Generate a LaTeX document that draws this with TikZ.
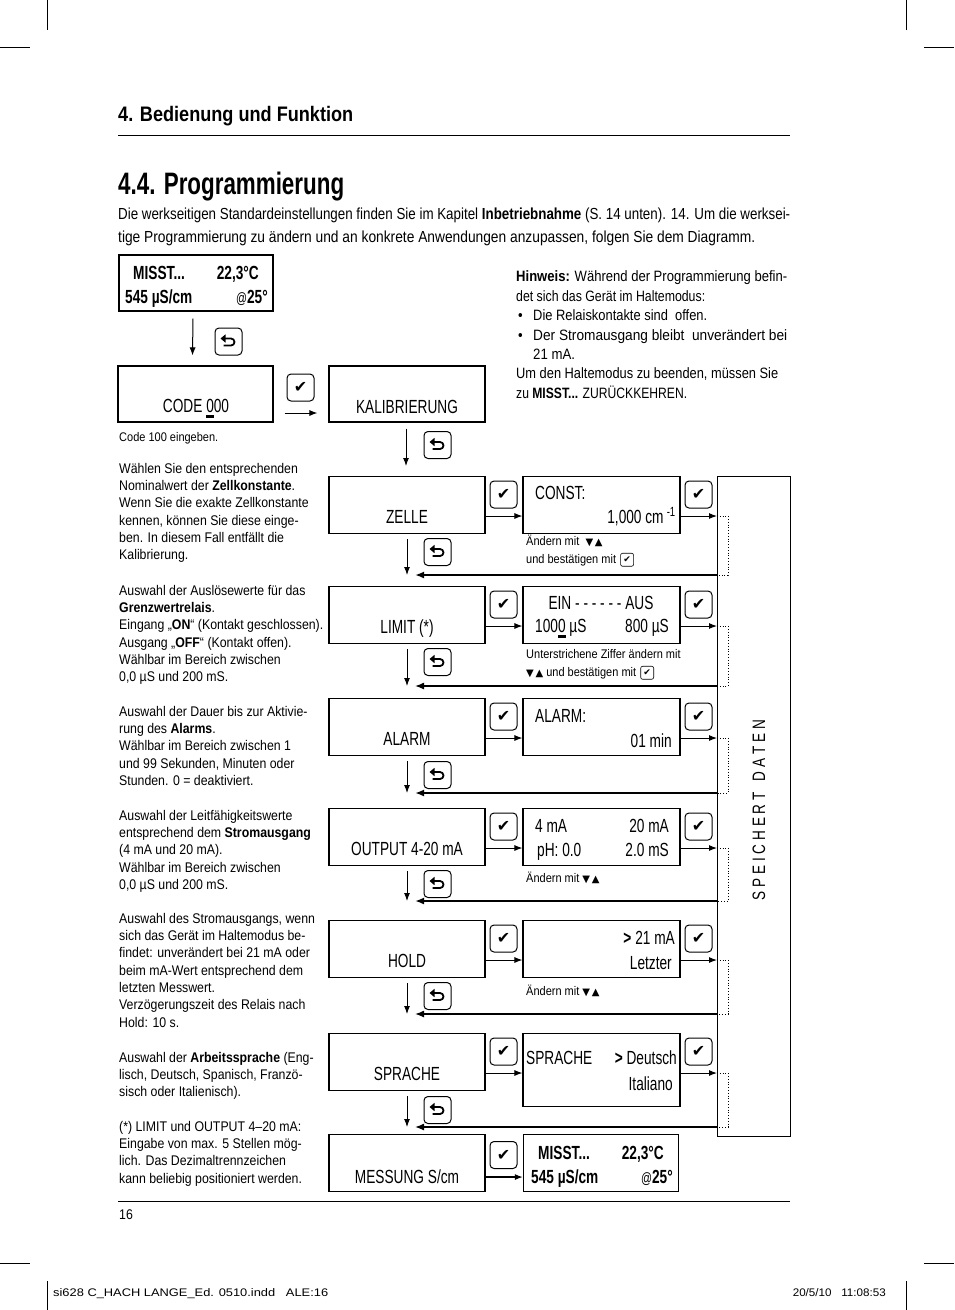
\documentclass[tikz,border=0pt]{standalone}
\usepackage{fontspec}
\usepackage{graphicx}
\setmainfont{Liberation Sans}[FakeStretch=0.88]
\newfontfamily\lcdfont{Liberation Sans}[FakeStretch=0.72]
\newfontfamily\symfont{DejaVu Sans}
\usetikzlibrary{arrows.meta,positioning}

% helpers
\newcommand{\fitw}[2]{\resizebox{#1}{\height}{#2}}
\newcommand{\chk}{{\symfont ✔}}
\newcommand{\updown}{{\symfont\fontsize{10}{10}\selectfont ▼\,▲}}
\newcommand{\cursor}[1]{\makebox[0pt][l]{\rule[-5.5pt]{7.6pt}{2.6pt}}#1}

\tikzset{
  lcd/.style={draw, line width=1.1pt, minimum width=156pt, minimum height=57pt, inner sep=0pt},
  lcdtxt/.style={inner sep=0pt, font=\lcdfont\fontsize{19}{22}\selectfont},
  btn/.style={draw, rounded corners=4pt, line width=1pt, minimum size=27pt, inner sep=0pt, font=\fontsize{16}{16}\selectfont},
  minibtn/.style={draw, rounded corners=2pt, line width=0.6pt, minimum size=13pt, inner sep=0pt, font=\fontsize{9}{9}\selectfont},
  note/.style={inner sep=0pt, align=left, anchor=north west, font=\fontsize{14}{17.3}\selectfont},
  hint/.style={inner sep=0pt, anchor=base west, font=\fontsize{15}{18}\selectfont},
  subtxt/.style={inner sep=0pt, anchor=base west, font=\fontsize{12.5}{15}\selectfont},
  flow/.style={-{Latex[length=8pt,width=6pt]}, line width=1pt},
  back/.style={-{Latex[length=9pt,width=7pt]}, shorten >=8pt},
  dots/.style={dotted, line width=0.8pt},
}

% return key with hooked arrow
\newcommand{\retkey}[2]{%
  \node[btn] (#1) at (#2) {};
  \begin{scope}[shift={(#1.center)}, x=1pt, y=1pt]
    \draw[line width=1.8pt, -{Triangle[length=5pt,width=8pt]}] (-5,-4) -- (2.5,-4) arc[start angle=-90, end angle=90, radius=3.5] -- (-8,3);
  \end{scope}}

\begin{document}
\begin{tikzpicture}[x=1pt, y=-1pt]

\fill[white] (0,0) rectangle (954,1310);
\useasboundingbox (0,0) rectangle (954,1310);

% Crop marks
\draw[line width=0.8pt] (47,0) -- (47,30);
\draw[line width=0.8pt] (906,0) -- (906,30);
\draw[line width=0.8pt] (0,47) -- (30,47);
\draw[line width=0.8pt] (924,47) -- (954,47);
\draw[line width=0.8pt] (0,1263) -- (30,1263);
\draw[line width=0.8pt] (924,1263) -- (954,1263);
\draw[line width=0.8pt] (47,1281) -- (47,1310);
\draw[line width=0.8pt] (906,1281) -- (906,1310);

% Headings
\node[inner sep=0pt, anchor=base west, font=\fontsize{21}{21}\selectfont\bfseries] (chap) at (118,121) {\fitw{235pt}{4. Bedienung und Funktion}};
\draw[line width=1pt] (118,135) -- (790,135);
\node[inner sep=0pt, anchor=base west, font=\fontsize{31}{31}\selectfont\bfseries] (sect) at (118,194) {\fitw{226pt}{4.4. Programmierung}};
\node[inner sep=0pt, anchor=base west, font=\fontsize{16}{19}\selectfont] (intro1) at (118,219.5) {\fitw{672pt}{Die werkseitigen Standardeinstellungen finden Sie im Kapitel \textbf{Inbetriebnahme} (S. 14 unten). 14. Um die werksei-}};
\node[inner sep=0pt, anchor=base west, font=\fontsize{16}{19}\selectfont] (intro2) at (118,242.5) {\fitw{637pt}{tige Programmierung zu ändern und an konkrete Anwendungen anzupassen, folgen Sie dem Diagramm.}};

% Hint
\node[hint] (h1) at (516,281) {\fitw{271pt}{\textbf{Hinweis:} Während der Programmierung befin-}};
\node[hint] (h2) at (516,301) {\fitw{189pt}{det sich das Gerät im Haltemodus:}};
\node[hint] (h3b) at (518,320) {\textbullet};
\node[hint] (h3) at (533,320) {\fitw{174pt}{Die Relaiskontakte sind\ \ offen.}};
\node[hint] (h4b) at (518,340) {\textbullet};
\node[hint] (h4) at (533,340) {\fitw{254pt}{Der Stromausgang bleibt\ \ unverändert bei}};
\node[hint] (h5) at (533,359) {21 mA.};
\node[hint] (h6) at (516,378) {\fitw{262pt}{Um den Haltemodus zu beenden, müssen Sie}};
\node[hint] (h7) at (516,398) {\fitw{171pt}{zu \textbf{MISST...} ZURÜCKKEHREN.}};

% Start: measuring display and code entry
\node[lcd, minimum width=154pt, minimum height=56pt] (misst) at (196,283) {};
\node[lcdtxt, anchor=base west, font=\lcdfont\fontsize{19}{22}\selectfont\bfseries] at (133,279) {MISST...};
\node[lcdtxt, anchor=base east, font=\lcdfont\fontsize{19}{22}\selectfont\bfseries] at (259,279) {22,3°C};
\node[lcdtxt, anchor=base west, font=\lcdfont\fontsize{19}{22}\selectfont\bfseries] at (125,303) {545 µS/cm};
\node[lcdtxt, anchor=base east, font=\lcdfont\fontsize{19}{22}\selectfont\bfseries] at (268,303) {{\mdseries\fontsize{15}{15}\selectfont @}25°};

\node[lcd, minimum width=155pt, minimum height=56pt] (code) at (195.5,394) {};
\node[lcdtxt, anchor=base] at (196,412) {CODE \cursor{0}00};
\node[subtxt] (codenote) at (119,441) {Code 100 eingeben.};

\node[lcd, minimum height=56pt] (kalib) at (407,394) {};
\node[lcdtxt, anchor=base] at (407,413) {KALIBRIERUNG};

\draw[flow] ([xshift=-3pt,yshift=-7pt]misst.south) -- ([xshift=-3pt,yshift=10pt]code.north);
\retkey{ret0}{228.5,341.5}
\node[btn] (ok0) at (300.5,387.5) {\chk};
\draw[flow] ([xshift=11pt,yshift=-19pt]code.east) -- ([xshift=-11pt,yshift=-19pt]kalib.west);
\draw[flow] ([xshift=-1pt,yshift=-6pt]kalib.south) -- ([xshift=-1pt,yshift=10pt]kalib.south |- 0,476);
\retkey{ret1}{437.5,445}

% Store column
\node[draw, line width=1.1pt, minimum width=73pt, minimum height=660pt, inner sep=0pt, anchor=north west] (store) at (717,476) {};
\node[lcdtxt, rotate=90] (storetxt) at (759,810) {\fitw{180pt}{\fontsize{18}{18}\selectfont S P E I C H E R T\ \ \ D A T E N}};

% Menu rows
\foreach \row/\ytop/\yfb/\yret/\hset/\wfb/\lbl in {
  zelle/476/575/552/57/2.2/ZELLE,
  limit/586/686/662/57/1.4/{LIMIT (*)},
  alarm/698/793/775/57/2.2/ALARM,
  output/808/901/884/57/2.2/{OUTPUT 4-20 mA},
  hold/920/1014/996/57/1.4/HOLD,
  sprache/1033/1127/1110/73/1.4/SPRACHE}{
  \node[lcd, anchor=north] (\row) at (407,\ytop) {};
  \node[lcd, anchor=north, minimum width=157pt, minimum height=\hset pt] (\row-set) at (601.5,\ytop) {};
  \node[lcdtxt, anchor=base] at (407,\ytop+47) {\lbl};
  \node[btn] (\row-ok) at (503.5,\ytop+18.5) {\chk};
  \node[btn] (\row-ok2) at (698.5,\ytop+18.5) {\chk};
  \coordinate (\row-in) at (0,\ytop+40);
  \coordinate (\row-fb) at (717,\yfb);
  \draw[flow] (\row.east |- \row-in) -- (\row-set.west |- \row-in);
  \draw[flow] (\row-set.east |- \row-in) -- (store.west |- \row-in);
  \draw[dots] (store.west |- \row-in) -- ++(11,0) |- (\row-fb);
  \draw[back, line width=\wfb pt] (\row-fb) -- (\row.south |- \row-fb);
  \draw[flow] ([yshift=-5pt]\row.south) -- (\row.south |- \row-fb);
  \retkey{\row-ret}{437.5,\yret}
}

% Settings texts
\node[lcdtxt, anchor=base west] at (535,499) {CONST:};
\node[lcdtxt, anchor=base east] at (676,523) {1,000 cm\,\textsuperscript{-1}};
\node[subtxt] (s1) at (526,545) {Ändern mit\ \ \updown};
\node[subtxt] (s2) at (526,563) {und bestätigen mit};
\node[minibtn, right=4pt of s2] (s2k) {\chk};

\node[lcdtxt, anchor=base] at (601,609) {EIN - - - - - - AUS};
\node[lcdtxt, anchor=base west] at (535,632) {100\cursor{0} µS};
\node[lcdtxt, anchor=base east] at (669,632) {800 µS};
\node[subtxt] (s3) at (526,658) {Unterstrichene Ziffer ändern mit};
\node[subtxt] (s4) at (526,676) {\updown\ und bestätigen mit};
\node[minibtn, right=4pt of s4] (s4k) {\chk};

\node[lcdtxt, anchor=base west] at (535,722) {ALARM:};
\node[lcdtxt, anchor=base east] at (672,747) {01 min};

\node[lcdtxt, anchor=base west] at (535,832) {4 mA};
\node[lcdtxt, anchor=base east] at (669,832) {20 mA};
\node[lcdtxt, anchor=base west] at (537,856) {pH: 0.0};
\node[lcdtxt, anchor=base east] at (669,856) {2.0 mS};
\node[subtxt] (s5) at (526,882) {Ändern mit \updown};

\node[lcdtxt, anchor=base east] at (675,944) {\textbf{>} 21 mA};
\node[lcdtxt, anchor=base east] at (672,969) {Letzter};
\node[subtxt] (s6) at (526,995) {Ändern mit \updown};

\node[lcdtxt, anchor=base west] at (526,1064) {SPRACHE};
\node[lcdtxt, anchor=base east] at (677,1064) {\textbf{>} Deutsch};
\node[lcdtxt, anchor=base east] at (673,1090) {Italiano};

% End: back to measuring
\node[lcd, anchor=north] (mess) at (407,1134) {};
\node[lcdtxt, anchor=base] at (407,1183) {MESSUNG S/cm};
\node[lcd, anchor=north, minimum width=155pt] (misst2) at (601,1134) {};
\node[lcdtxt, anchor=base west, font=\lcdfont\fontsize{19}{22}\selectfont\bfseries] at (538,1159) {MISST...};
\node[lcdtxt, anchor=base east, font=\lcdfont\fontsize{19}{22}\selectfont\bfseries] at (664,1159) {22,3°C};
\node[lcdtxt, anchor=base west, font=\lcdfont\fontsize{19}{22}\selectfont\bfseries] at (531,1183) {545 µS/cm};
\node[lcdtxt, anchor=base east, font=\lcdfont\fontsize{19}{22}\selectfont\bfseries] at (673,1183) {{\mdseries\fontsize{15}{15}\selectfont @}25°};
\node[btn] (ok9) at (503.5,1155) {\chk};
\draw[flow, line width=1.4pt] ([yshift=-14pt]mess.east) -- ([yshift=-14pt]misst2.west);

% Left column notes
\node[note] (n1) at (119,463) {Wählen Sie den entsprechenden\\Nominalwert der \textbf{Zellkonstante}.\\Wenn Sie die exakte Zellkonstante\\kennen, können Sie diese einge-\\ben. In diesem Fall entfällt die\\Kalibrierung.};
\node[note] (n2) at (119,585) {Auswahl der Auslösewerte für das\\\textbf{Grenzwertrelais}.\\Eingang „\textbf{ON}“ (Kontakt geschlossen).\\Ausgang „\textbf{OFF}“ (Kontakt offen).\\Wählbar im Bereich zwischen\\0,0 µS und 200 mS.};
\node[note] (n3) at (119,706) {Auswahl der Dauer bis zur Aktivie-\\rung des \textbf{Alarms}.\\Wählbar im Bereich zwischen 1\\und 99 Sekunden, Minuten oder\\Stunden. 0 = deaktiviert.};
\node[note] (n4) at (119,810) {Auswahl der Leitfähigkeitswerte\\entsprechend dem \textbf{Stromausgang}\\(4 mA und 20 mA).\\Wählbar im Bereich zwischen\\0,0 µS und 200 mS.};
\node[note] (n5) at (119,913) {Auswahl des Stromausgangs, wenn\\sich das Gerät im Haltemodus be-\\findet: unverändert bei 21 mA oder\\beim mA-Wert entsprechend dem\\letzten Messwert.\\Verzögerungszeit des Relais nach\\Hold: 10 s.};
\node[note] (n6) at (119,1052) {Auswahl der \textbf{Arbeitssprache} (Eng-\\lisch, Deutsch, Spanisch, Franzö-\\sisch oder Italienisch).};
\node[note] (n7) at (119,1121) {(*) LIMIT und OUTPUT 4–20 mA:\\Eingabe von max. 5 Stellen mög-\\lich. Das Dezimaltrennzeichen\\kann beliebig positioniert werden.};

% Footer
\draw[line width=1pt] (118,1201) -- (790,1201);
\node[inner sep=0pt, anchor=base west, font=\fontsize{14}{14}\selectfont] (page) at (119,1219) {16};
\node[inner sep=0pt, anchor=base west, font=\fontsize{11}{11}\selectfont] (slug) at (53,1296) {\fitw{275pt}{si628 C\_HACH LANGE\_Ed. 0510.indd\ \ \ ALE:16}};
\node[inner sep=0pt, anchor=base east, font=\fontsize{11}{11}\selectfont] (stamp) at (886,1296) {\fitw{93pt}{20/5/10\ \ \ 11:08:53}};

\end{tikzpicture}
\end{document}
